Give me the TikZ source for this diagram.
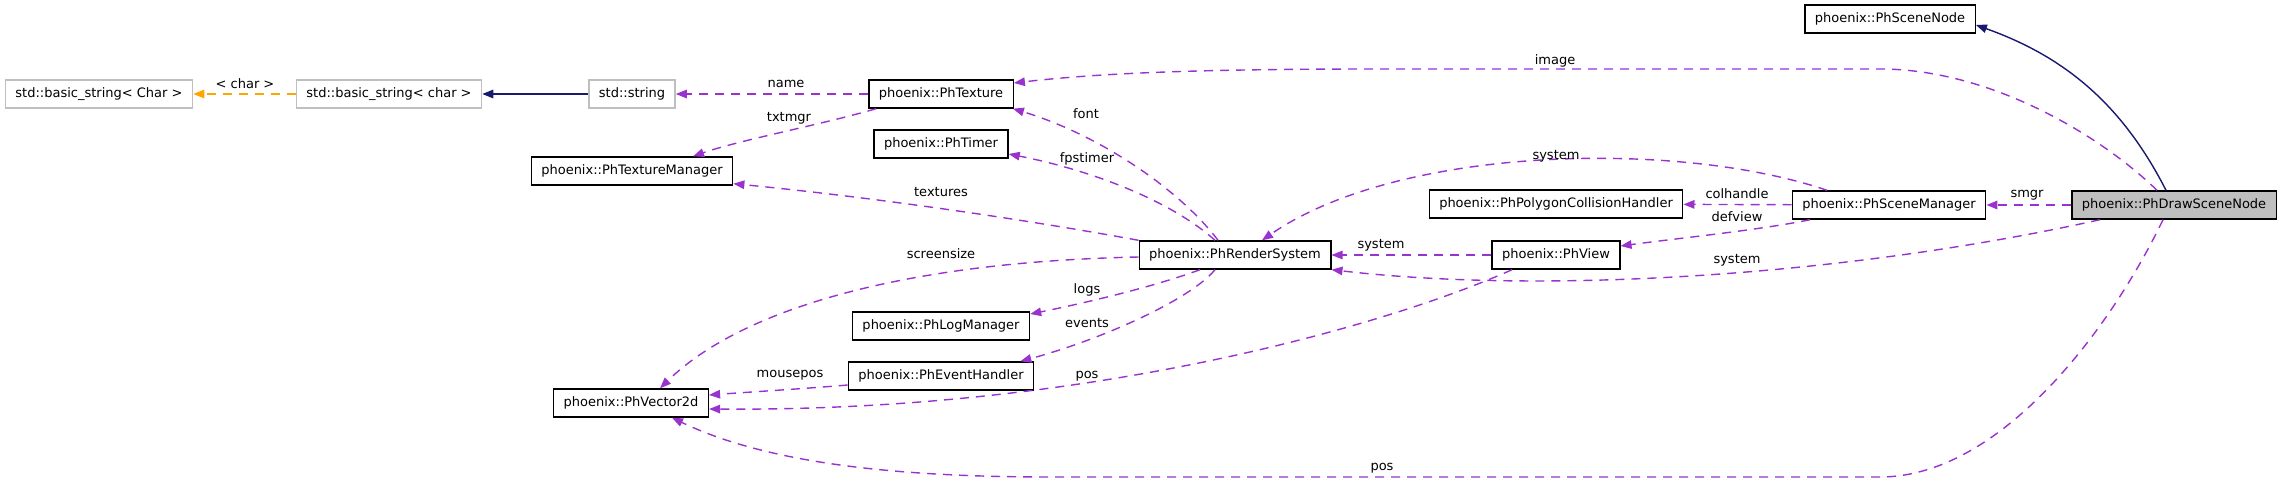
\documentclass[tikz,border=0pt]{standalone}
\usepackage{fontspec}
\setmainfont{DejaVu Sans}
\usetikzlibrary{arrows.meta}
\definecolor{usecol}{HTML}{9A32CD}
\definecolor{tplcol}{HTML}{FFA500}
\definecolor{inhcol}{HTML}{191970}
\definecolor{stdgray}{HTML}{BFBFBF}

\begin{document}
\begin{tikzpicture}[x=1pt, y=-1pt, >={Triangle[length=11pt,width=8.5pt]},
  font=\fontsize{13}{15}\selectfont,
  cls/.style={draw, line width=1.4pt, minimum height=28pt, inner xsep=10pt, inner ysep=0pt},
  stdcls/.style={cls, draw=stdgray},
  cur/.style={cls, fill=stdgray},
  uses/.style={->, usecol, line width=1.4pt, dash pattern=on 9pt off 7pt},
  tmpl/.style={->, tplcol, line width=1.4pt, dash pattern=on 9pt off 7pt},
  inherit/.style={->, inhcol, line width=1.4pt},
  lbl/.style={inner sep=0pt}]

\useasboundingbox (0,0) rectangle (2282,482);

% classes
\node[stdcls] (bsChar) at (99,94) {std::basic\_string< Char >};
\node[stdcls] (bschar) at (389,94) {std::basic\_string< char >};
\node[stdcls] (stdstring) at (632,94) {std::string};
\node[cls] (texture) at (941,94) {phoenix::PhTexture};
\node[cls] (timer) at (941,144) {phoenix::PhTimer};
\node[cls] (texmgr) at (632,171) {phoenix::PhTextureManager};
\node[cls] (render) at (1235,255) {phoenix::PhRenderSystem};
\node[cls] (logmgr) at (941,326) {phoenix::PhLogManager};
\node[cls] (evhandler) at (941,376) {phoenix::PhEventHandler};
\node[cls] (vector) at (631,403) {phoenix::PhVector2d};
\node[cls] (polycol) at (1556,204) {phoenix::PhPolygonCollisionHandler};
\node[cls] (scenemgr) at (1889,205) {phoenix::PhSceneManager};
\node[cur] (drawnode) at (2174,205) {phoenix::PhDrawSceneNode};
\node[cls] (view) at (1556,255) {phoenix::PhView};
\node[cls] (scenenode) at (1890,19) {phoenix::PhSceneNode};

% straight links
\path
(bschar) edge[tmpl] (bsChar)
(stdstring) edge[inherit] (bschar)
(texture) edge[uses] (stdstring)
(view) edge[uses] (render)
(scenemgr) edge[uses] (polycol)
(drawnode) edge[uses] (scenemgr);

% curved links
\draw[uses] ([xshift=8pt]texture.south west) .. controls (820,125) and (740,140) .. ([xshift=61pt]texmgr.north);
\draw[uses] (render.north west) .. controls (1000,215) and (850,195) .. ([yshift=2pt]texmgr.south east);
\draw[uses] ([xshift=-17pt]render.north) .. controls (1180,190) and (1100,135) .. ([xshift=-1pt]texture.south east);
\draw[uses] ([xshift=-20pt]render.north) .. controls (1170,200) and (1090,170) .. ([yshift=-10pt]timer.east);
\draw[uses] ([yshift=-2pt]render.west) .. controls (900,262) and (740,310) .. ([xshift=29pt]vector.north);
\draw[uses] ([xshift=-35pt]render.south) .. controls (1150,288) and (1080,304) .. ([yshift=12pt]logmgr.east);
\draw[uses] ([xshift=-20pt]render.south) .. controls (1190,300) and (1100,340) .. ([xshift=-14pt]evhandler.north east);
\draw[uses] ([yshift=-9pt]evhandler.west) .. controls (800,389) and (750,392) .. ([yshift=8pt]vector.east);
\draw[uses] ([xshift=-44pt]view.south) .. controls (1400,320) and (1100,412) .. ([yshift=-6pt]vector.east);
\draw[uses] ([xshift=-62pt]scenemgr.north) .. controls (1680,140) and (1400,145) .. ([xshift=27pt]render.north);
\draw[uses] ([xshift=-79pt]scenemgr.south) .. controls (1760,230) and (1680,238) .. ([yshift=9pt]view.east);
\draw[inherit] ([xshift=-8pt]drawnode.north) .. controls (2120,100) and (2060,55) .. ([yshift=-6pt]scenenode.east);
\draw[uses] ([xshift=-17pt]drawnode.north) .. controls (2100,135) and (1990,69) .. (1880,69) -- (1380,69)
  .. controls (1200,69) and (1100,73) .. ([yshift=11pt]texture.east);
\draw[uses] ([xshift=-74pt]drawnode.south) .. controls (1850,275) and (1550,295) .. (render.south east);
\draw[uses] ([xshift=-11pt]drawnode.south) .. controls (2110,330) and (2000,477) .. (1880,477) -- (1050,477)
  .. controls (880,477) and (760,460) .. ([xshift=41pt]vector.south);

% labels
\node[lbl] (lchar) at (245,84) {< char >};
\node[lbl] (lname) at (786,84) {name};
\node[lbl] (ltxtmgr) at (789,118) {txtmgr};
\node[lbl] (ltextures) at (941,192) {textures};
\node[lbl] (lfont) at (1086,114) {font};
\node[lbl] (lfpstimer) at (1087,159) {fpstimer};
\node[lbl] (lscreensize) at (941,254) {screensize};
\node[lbl] (llogs) at (1087,290) {logs};
\node[lbl] (levents) at (1087,323) {events};
\node[lbl] (lmousepos) at (790,375) {mousepos};
\node[lbl] (lposview) at (1087,376) {pos};
\node[lbl] (lsysview) at (1381,245) {system};
\node[lbl] (lsysmgr) at (1556,156) {system};
\node[lbl] (lcolhandle) at (1737,194) {colhandle};
\node[lbl] (ldefview) at (1737,217) {defview};
\node[lbl] (lsmgr) at (2027,195) {smgr};
\node[lbl] (limage) at (1555,61) {image};
\node[lbl] (lsysdraw) at (1737,260) {system};
\node[lbl] (lposdraw) at (1382,468) {pos};
\end{tikzpicture}
\end{document}
